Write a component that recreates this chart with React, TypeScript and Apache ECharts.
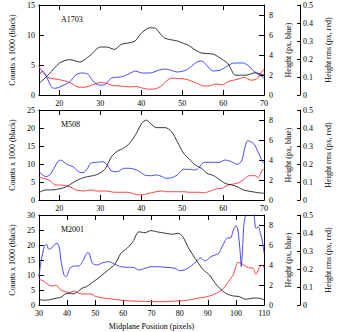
import React, { useEffect, useRef } from "react";
import * as echarts from "echarts";

// ---------- Panel 1: A1703 ----------
const a1703BlackX = [15, 17.5, 20, 22.5, 25, 27.5, 30, 31.5, 33.5, 35, 37, 38.5, 40, 42, 43.5, 45, 46, 48.8, 50.3, 51.5, 53.2, 54.7, 57.6, 59.4, 61.2, 63, 65.6, 67.8, 70];
const a1703Black = [1.9, 3.5, 5.3, 5.9, 5.5, 6.6, 8.0, 8.0, 7.6, 8.4, 8.7, 9.0, 10.3, 11.2, 11.1, 9.9, 9.4, 9.0, 8.6, 8.3, 7.5, 7.0, 6.8, 6.1, 5.2, 3.3, 3.3, 3.7, 3.3];
const a1703BlueX = [15, 15.9, 17, 18.1, 19, 21.1, 22.5, 24, 25.4, 26.9, 28.4, 29.8, 30.9, 32.7, 34.9, 36.4, 38.6, 40.1, 42.2, 44.4, 45.9, 48.8, 51, 53.6, 54.7, 57.6, 59.4, 62.7, 64.9, 67.8, 69.6, 70];
const a1703Blue = [2.0, 2.4, 1.7, 0.77, 0.67, 1.0, 1.3, 2.0, 2.2, 2.1, 1.3, 1.0, 1.0, 1.7, 1.8, 2.0, 2.4, 2.2, 2.2, 2.5, 2.6, 2.3, 2.5, 3.3, 3.4, 2.4, 2.5, 3.2, 3.2, 2.3, 1.8, 1.7];
const a1703RedX = [15, 16, 17, 18, 20, 22.5, 24.5, 26, 28, 30, 31.5, 33, 35, 37, 39, 40, 42, 43.5, 45, 45.9, 47.4, 49, 51, 53.2, 55.4, 56.5, 58.3, 59.7, 61.2, 63.4, 65.2, 66.6, 68.1, 69.6, 70];
const a1703Red = [0.16, 0.125, 0.1, 0.092, 0.085, 0.07, 0.045, 0.043, 0.055, 0.07, 0.065, 0.053, 0.05, 0.045, 0.047, 0.04, 0.032, 0.035, 0.05, 0.074, 0.093, 0.092, 0.087, 0.069, 0.05, 0.05, 0.061, 0.056, 0.074, 0.087, 0.098, 0.083, 0.087, 0.135, 0.14];

// ---------- Panel 2: M508 ----------
const m508BlackX = [15, 16.7, 18.1, 19.6, 21.1, 22.5, 24, 25.4, 26.9, 28.4, 29.8, 31.3, 32.7, 34.2, 35.7, 37.1, 38.6, 40.1, 41.2, 42.2, 43.7, 45.9, 47.4, 48.8, 50.3, 51.7, 53.2, 54.7, 56.1, 57.6, 59, 60.5, 62, 63.4, 64.9, 67.1, 69.6, 70];
const m508Black = [2.1, 2.8, 2.8, 3.0, 3.4, 4.2, 5.3, 6.0, 6.5, 6.8, 7.4, 8.8, 12.0, 13.6, 14.4, 15.7, 18.1, 21.3, 22.2, 21.3, 20.1, 20.1, 19.0, 16.2, 13.0, 11.4, 9.7, 8.8, 7.4, 6.8, 5.8, 4.6, 4.2, 3.7, 2.8, 2.3, 1.9, 1.9];
const m508BlueX = [15, 16.7, 17.8, 19.6, 20.3, 21.8, 23.3, 24.7, 25.8, 26.9, 27.6, 29.1, 30.6, 31.7, 32.7, 34.2, 35.7, 37.1, 39.3, 40.8, 42.2, 43.7, 45.2, 45.9, 47.4, 48.8, 50.3, 51.7, 53.2, 53.9, 55.4, 56.8, 59, 60.5, 62, 63.4, 64.5, 66, 67.4, 68.5, 69.6, 70];
const m508Blue = [2.83, 2.33, 2.57, 3.83, 4.0, 3.57, 3.33, 2.83, 2.73, 3.17, 3.67, 3.77, 3.83, 3.5, 2.9, 2.83, 3.17, 3.17, 2.93, 2.5, 2.43, 2.5, 2.33, 2.17, 2.23, 2.5, 3.07, 3.07, 3.0, 3.17, 3.77, 3.77, 3.77, 4.0, 3.83, 3.57, 3.9, 5.93, 5.67, 4.83, 3.83, 3.7];
const m508RedX = [15, 16.7, 18.1, 18.9, 20.3, 22.5, 24, 26.2, 27.6, 29.1, 31.3, 33.5, 36.4, 37.9, 39.3, 40.8, 43, 45.2, 45.9, 48.8, 50.3, 51.7, 53.9, 55.4, 56.8, 58.3, 59.7, 61.2, 63.4, 64.9, 66.3, 67.8, 68.5, 69.6, 70];
const m508Red = [0.126, 0.117, 0.102, 0.083, 0.083, 0.074, 0.056, 0.05, 0.056, 0.05, 0.05, 0.043, 0.043, 0.037, 0.028, 0.031, 0.043, 0.05, 0.046, 0.046, 0.046, 0.043, 0.043, 0.04, 0.05, 0.061, 0.065, 0.083, 0.093, 0.111, 0.135, 0.135, 0.124, 0.167, 0.17];

// ---------- Panel 3: M2001 ----------
const m2001BlackX = [30, 31.4, 33.5, 35.7, 37.8, 39.4, 41, 42.1, 43.7, 45.3, 46.9, 48.5, 50.6, 52.7, 54.9, 57, 59.1, 61.3, 63.4, 65.5, 67.7, 69.8, 71.9, 75.1, 77.3, 79.5, 81.1, 83.1, 86.3, 88.4, 90.6, 92.7, 94.8, 97, 99.1, 101.2, 103.4, 106.1, 108.2, 110];
const m2001Black = [1.9, 1.6, 1.7, 2.2, 2.6, 3.7, 3.9, 3.7, 4.4, 5.6, 6.1, 7.2, 8.6, 10.2, 11.9, 13.6, 17.2, 18.9, 21.1, 24.4, 24.1, 24.8, 24.4, 23.9, 23.6, 23.9, 22.8, 19.1, 14.4, 11.7, 10.0, 7.2, 5.0, 3.6, 3.0, 2.8, 1.9, 2.3, 2.3, 1.7];
const m2001BlueX = [30, 30.85, 31.9, 32.7, 33.5, 34.6, 35.7, 36.5, 37.3, 37.8, 38.9, 39.7, 41, 42.6, 44.2, 45.8, 47.2, 47.9, 49, 50.6, 52.7, 54.9, 57, 59.1, 61.3, 63.4, 65.5, 67.7, 69.8, 71.9, 75.1, 78.4, 80, 81.6, 83.7, 85.9, 87.4, 89, 91.1, 93.8, 95.4, 97, 98.1, 99.1, 100, 100.7, 101.5, 101.9, 102.3, 102.8, 103.4, 104.3, 105.3, 106.4, 107.1, 107.9, 108.7, 109.4, 110];
const m2001Blue = [2.83, 4.5, 5.83, 6.07, 5.57, 5.73, 6.07, 6.17, 5.67, 4.5, 3.0, 2.83, 3.67, 3.9, 3.9, 4.5, 5.23, 5.17, 4.17, 4.0, 4.23, 4.33, 4.07, 3.83, 3.77, 3.77, 3.5, 3.67, 3.83, 3.83, 3.77, 3.67, 3.43, 3.5, 3.83, 4.33, 4.73, 4.4, 4.83, 5.17, 6.0, 6.73, 6.7, 7.5, 7.93, 7.5, 5.3, 3.83, 5.3, 8.0, 9.0, 10.0, 10.0, 9.0, 7.67, 7.83, 7.17, 6.33, 5.17];
const m2001RedX = [30, 31.4, 33.5, 34.6, 36.2, 37.8, 39.4, 41, 42.6, 44.2, 46.3, 48.5, 50.1, 52.7, 55.9, 59.1, 63.4, 68.7, 73, 78.3, 82, 85, 87.4, 89.5, 91.5, 93.7, 95.4, 96.9, 98, 99.1, 100.7, 102.3, 104.5, 106.1, 107.1, 108.2, 109.3, 110];
const m2001Red = [0.143, 0.135, 0.111, 0.106, 0.109, 0.083, 0.074, 0.069, 0.078, 0.065, 0.061, 0.061, 0.048, 0.04, 0.033, 0.027, 0.022, 0.02, 0.018, 0.022, 0.025, 0.033, 0.04, 0.045, 0.055, 0.07, 0.09, 0.12, 0.145, 0.17, 0.237, 0.226, 0.207, 0.204, 0.17, 0.204, 0.222, 0.207];

// ---------- Axes ----------
const panelNames = ["A1703", "M508", "M2001"];
const xMins = [15, 15, 30];
const xMaxs = [70, 70, 110];
const xTicks12 = [20, 30, 40, 50, 60, 70];
const xTicks3 = [30, 40, 50, 60, 70, 80, 90, 100, 110];
const countMaxs = [15, 25, 30];

const zip = (xs: number[], ys: number[]) => xs.map((x, i) => [x, ys[i]]);

const FONT = "Liberation Serif";
const BLACK = "#000";
const BLUE = "#3333ff";
const RED = "#ff2a2a";

const gridTops = [5, 110, 215];
const GRID_H = 90;

export default function App() {
  const ref = useRef<HTMLDivElement>(null);
  useEffect(() => {
    if (!ref.current) return;
    const chart = echarts.init(ref.current, undefined, { renderer: "svg" });
    const lineStyle = { color: BLACK, width: 1 };
    const labelStyle = { color: BLACK, fontFamily: FONT, fontSize: 8 };
    const nameStyle = { color: BLACK, fontFamily: FONT, fontSize: 8 };

    const grids = gridTops.map((t) => ({ left: 29, right: 62.5, top: t, height: GRID_H }));
    const xAxes: any[] = [];
    const yAxes: any[] = [];
    const series: any[] = [];
    const panelData = [
      [zip(a1703BlackX, a1703Black), zip(a1703BlueX, a1703Blue), zip(a1703RedX, a1703Red)],
      [zip(m508BlackX, m508Black), zip(m508BlueX, m508Blue), zip(m508RedX, m508Red)],
      [zip(m2001BlackX, m2001Black), zip(m2001BlueX, m2001Blue), zip(m2001RedX, m2001Red)],
    ];
    for (let i = 0; i < 3; i++) {
      const ticks = i === 2 ? xTicks3 : xTicks12;
      const base = {
        gridIndex: i,
        type: "value",
        min: xMins[i],
        max: xMaxs[i],
        splitLine: { show: false },
        axisLine: { show: true, onZero: false, lineStyle },
        axisTick: { show: true, inside: true, length: 5, lineStyle, customValues: ticks },
      };
      xAxes.push({
        ...base,
        position: "bottom",
        axisLabel: { ...labelStyle, margin: 4, customValues: ticks },
        ...(i === 2
          ? { name: "Midplane Position (pixels)", nameLocation: "middle", nameGap: 17, nameTextStyle: nameStyle }
          : {}),
      });
      xAxes.push({ ...base, position: "top", axisLabel: { show: false, customValues: ticks } });

      yAxes.push({
        gridIndex: i,
        type: "value",
        position: "left",
        min: 0,
        max: countMaxs[i],
        interval: 5,
        splitLine: { show: false },
        axisLine: { show: true, onZero: false, lineStyle },
        axisTick: { show: true, inside: true, length: 5, lineStyle },
        axisLabel: { ...labelStyle, margin: 4 },
        name: "Counts x 1000 (black)",
        nameLocation: "middle",
        nameRotate: 90,
        nameGap: 17,
        nameTextStyle: nameStyle,
      });
      yAxes.push({
        gridIndex: i,
        type: "value",
        position: "right",
        min: 0,
        max: 9,
        interval: 2,
        splitLine: { show: false },
        axisLine: { show: true, onZero: false, lineStyle },
        axisTick: { show: true, inside: true, length: 5, lineStyle },
        axisLabel: { ...labelStyle, margin: 5, showMaxLabel: false },
        name: "Height (px, blue)",
        nameLocation: "middle",
        nameRotate: 90,
        nameGap: 16,
        nameTextStyle: nameStyle,
      });
      yAxes.push({
        gridIndex: i,
        type: "value",
        position: "right",
        offset: 36,
        min: 0,
        max: 0.5,
        interval: 0.1,
        splitLine: { show: false },
        axisLine: { show: true, onZero: false, lineStyle },
        axisTick: { show: true, inside: true, length: 3, lineStyle },
        axisLabel: { ...labelStyle, margin: 3 },
        name: "Height rms (px, red)",
        nameLocation: "middle",
        nameRotate: 90,
        nameGap: 16,
        nameTextStyle: nameStyle,
      });
      const colors = [BLACK, BLUE, RED];
      for (let k = 0; k < 3; k++) {
        series.push({
          type: "line",
          xAxisIndex: 2 * i,
          yAxisIndex: 3 * i + k,
          data: panelData[i][k],
          showSymbol: false,
          smooth: 0.25,
          clip: true,
          lineStyle: { color: colors[k], width: k === 0 ? 0.8 : 0.9 },
          itemStyle: { color: colors[k] },
          z: 3 - k,
        });
      }
    }

    chart.setOption({
      animation: false,
      backgroundColor: "#fff",
      grid: grids,
      xAxis: xAxes,
      yAxis: yAxes,
      series,
      graphic: panelNames.map((n, i) => ({
        type: "text",
        left: 61,
        top: gridTops[i] + 10,
        style: { text: n, fill: BLACK, font: `8px '${FONT}'` },
      })),
    });
    return () => chart.dispose();
  }, []);
  return (
    <div
      ref={ref}
      style={{ position: "absolute", left: 0, top: 0, width: 340, height: 332, background: "#fff" }}
    />
  );
}
